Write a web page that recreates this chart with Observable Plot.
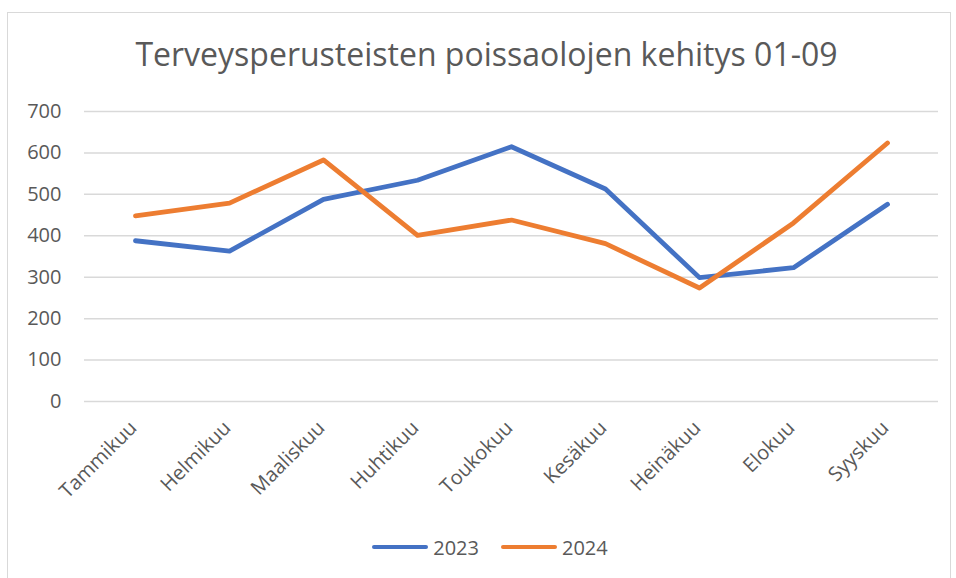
<!DOCTYPE html>
<html>
<head>
<meta charset="utf-8">
<script src="https://cdn.jsdelivr.net/npm/d3@7"></script>
<script src="https://cdn.jsdelivr.net/npm/@observablehq/plot@0.6"></script>
<style>
  body { margin: 0; background: #fff; font-family: "Open Sans", sans-serif; color: #595959; }
  #frame { position: absolute; left: 7px; top: 12px; width: 944px; height: 600px; border: 1px solid #d9d9d9; box-sizing: border-box; }
  #wrap { position: relative; width: 956px; }
  #title { margin: 0; padding: 38px 0 0 17px; height: 55px; box-sizing: content-box; font-size: 32px; font-weight: 400; line-height: 1; text-align: center; color: #595959; white-space: nowrap; }
  #legend { margin-top: 27px; padding-left: 24px; display: flex; justify-content: center; align-items: center; font-size: 20px; line-height: 1; color: #595959; }
  .item { display: flex; align-items: center; }
  .item + .item { margin-left: 22px; }
  .sw { display: inline-block; width: 56px; height: 4.5px; border-radius: 3px; margin-right: 5px; position: relative; top: -1px; }
</style>
</head>
<body>
<div id="frame"></div>
<div id="wrap">
  <div id="title">Terveysperusteisten poissaolojen kehitys 01-09</div>
  <div id="chart"></div>
  <div id="legend"></div>
</div>
<script>
const months = ["Tammikuu","Helmikuu","Maaliskuu","Huhtikuu","Toukokuu","Kesäkuu","Heinäkuu","Elokuu","Syyskuu"];
const series = ["2023","2024"];
const v2023 = [388, 363, 488, 534, 615, 513, 299, 323, 476];
const v2024 = [448, 479, 583, 401, 438, 381, 274, 431, 624];
const yTicks = [0, 100, 200, 300, 400, 500, 600, 700];
const colors = ["#4472C4", "#ED7D31"];

const data = [];
months.forEach((m, i) => {
  data.push({month: m, series: series[0], value: v2023[i]});
  data.push({month: m, series: series[1], value: v2024[i]});
});

const chart = Plot.plot({
  width: 956,
  height: 418,
  marginTop: 18,
  marginLeft: 84,
  marginRight: 18,
  marginBottom: 110,
  style: {fontFamily: "Open Sans, sans-serif", fontSize: "20px", color: "#595959", background: "transparent", overflow: "visible"},
  x: {type: "point", domain: months, padding: 0.5, label: null},
  y: {domain: [0, 700], label: null},
  color: {domain: series, range: colors},
  marks: [
    Plot.gridY(yTicks, {stroke: "#d9d9d9", strokeOpacity: 1, strokeWidth: 1.5}),
    Plot.axisY(yTicks, {tickSize: 0, tickPadding: 23, fontSize: 20, label: null}),
    Plot.axisX({tickSize: 0, tickRotate: -45, tickPadding: 23, dx: -2, fontSize: 20, label: null}),
    Plot.lineY(data, {x: "month", y: "value", z: "series", stroke: "series", strokeWidth: 4.8, strokeLinejoin: "round", strokeLinecap: "round"})
  ]
});
document.getElementById("chart").appendChild(chart);

const legend = document.getElementById("legend");
series.forEach((s, i) => {
  const item = document.createElement("span");
  item.className = "item";
  const sw = document.createElement("span");
  sw.className = "sw";
  sw.style.background = colors[i];
  const t = document.createElement("span");
  t.textContent = s;
  item.appendChild(sw);
  item.appendChild(t);
  legend.appendChild(item);
});
</script>
</body>
</html>
